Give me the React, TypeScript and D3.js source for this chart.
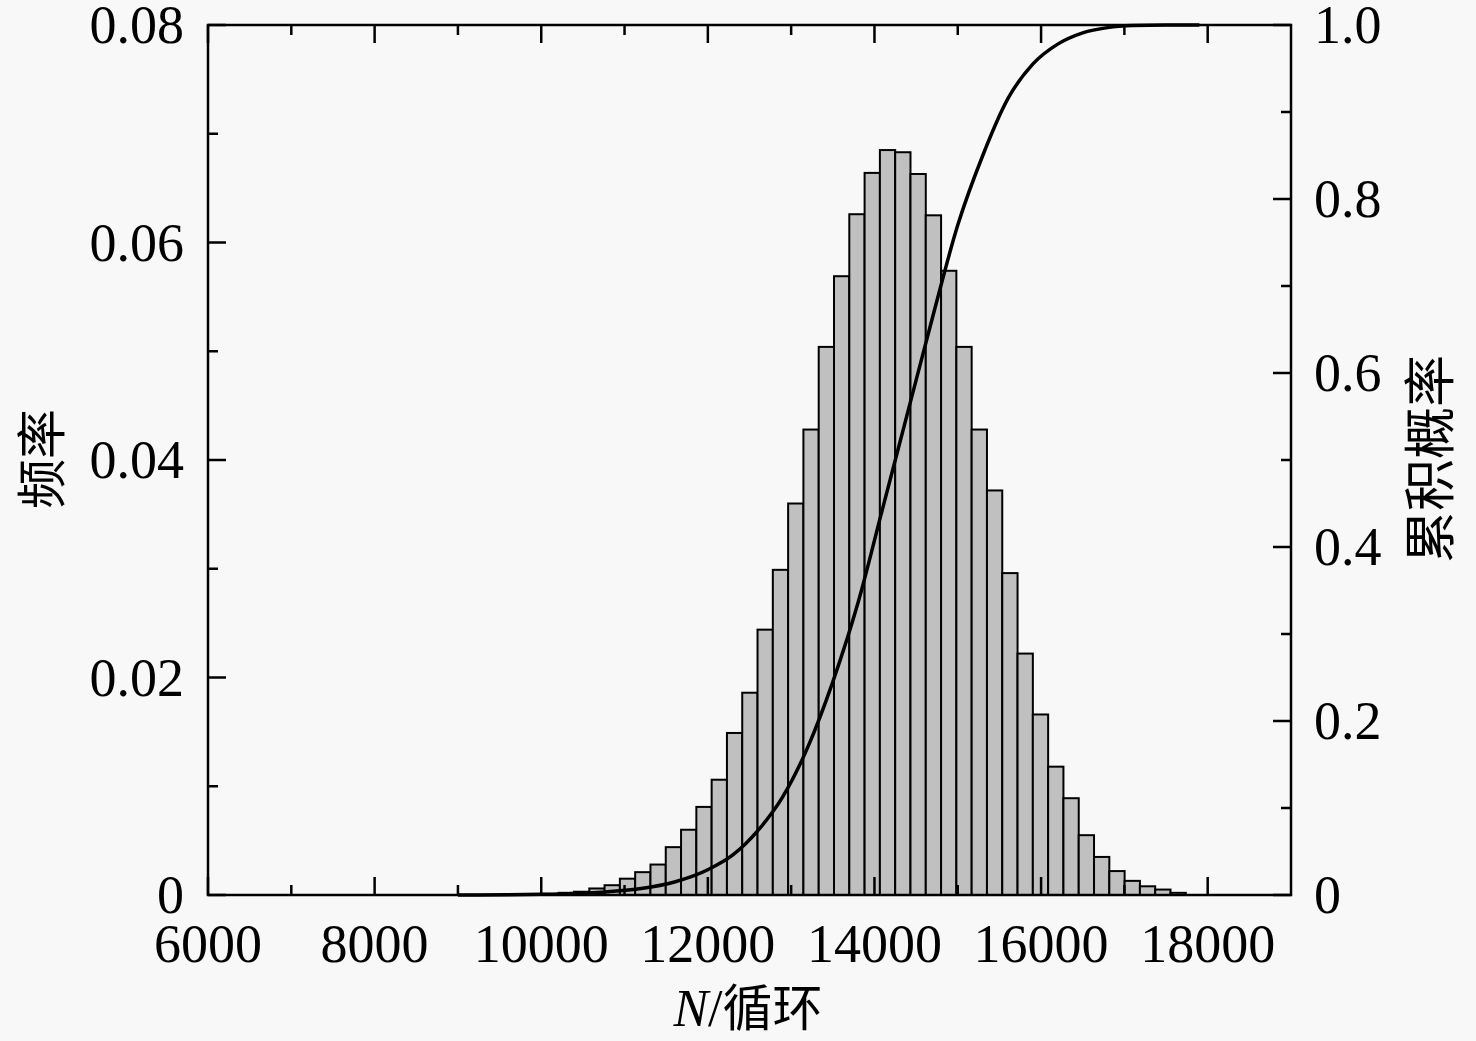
import React from "react";
import * as d3 from "d3";

// Histogram: bins of equal width starting at binStart
const binStart = 10026;
const binWidth = 183.6;
const freq = [
  0.0001, 0.0002, 0.0003, 0.0006, 0.0009, 0.0015, 0.0021, 0.0028, 0.0044, 0.006,
  0.0081, 0.0106, 0.0149, 0.0186, 0.0244, 0.0299, 0.036, 0.0428, 0.0504, 0.0569,
  0.0626, 0.0664, 0.0685, 0.0683, 0.0663, 0.0625, 0.0574, 0.0504, 0.0428, 0.0372,
  0.0296, 0.0222, 0.0166, 0.0118, 0.0089, 0.0055, 0.0035, 0.0022, 0.0013, 0.0008,
  0.0005, 0.0002,
];

// Cumulative probability curve
const cdfN = [
  9000, 9600, 10000, 10400, 10800, 11200, 11600, 12000, 12300, 12600, 12900, 13200,
  13500, 13800, 14100, 14400, 14700, 15000, 15300, 15600, 15900, 16200, 16500, 16800,
  17100, 17500, 17900,
];
const cdfP = [
  0, 0.0003, 0.0008, 0.0018, 0.0038, 0.0075, 0.015, 0.029, 0.046, 0.074, 0.113, 0.17,
  0.245, 0.335, 0.445, 0.555, 0.665, 0.77, 0.85, 0.915, 0.955, 0.978, 0.991, 0.997,
  0.9993, 1.0, 1.0,
];

const xMajor = [6000, 8000, 10000, 12000, 14000, 16000, 18000];
const xMinor = [7000, 9000, 11000, 13000, 15000, 17000];
const yLeftMajor = [0, 0.02, 0.04, 0.06, 0.08];
const yLeftMinor = [0.01, 0.03, 0.05, 0.07];
const yRightMajor = [0, 0.2, 0.4, 0.6, 0.8, 1.0];
const yRightMinor = [0.1, 0.3, 0.5, 0.7, 0.9];

const W = 1476;
const H = 1041;
const L = 208, R = 1291, T = 25, B = 895;

export default function App() {
  const x = d3.scaleLinear().domain([6000, 19000]).range([L, R]);
  const yL = d3.scaleLinear().domain([0, 0.08]).range([B, T]);
  const yR = d3.scaleLinear().domain([0, 1]).range([B, T]);

  const line = d3
    .line<number>()
    .x((_, i) => x(cdfN[i]))
    .y((d) => yR(d))
    .curve(d3.curveMonotoneX);

  const serif = "'Liberation Serif', 'Times New Roman', serif";
  const cjk = "'Noto Sans CJK SC', sans-serif";
  const major = 18;
  const minor = 10;

  const fmtL = (v: number) => (v === 0 ? "0" : v.toFixed(2));
  const fmtR = (v: number) => (v === 0 ? "0" : v.toFixed(1));

  return (
    <svg
      width={W}
      height={H}
      style={{ position: "absolute", left: 0, top: 0, background: "#f8f8f8" }}
    >
      {/* bars */}
      <g>
        {freq.map((f, i) => {
          const x0 = x(binStart + i * binWidth);
          const x1 = x(binStart + (i + 1) * binWidth);
          return (
            <rect
              key={i}
              x={x0}
              y={yL(f)}
              width={x1 - x0}
              height={B - yL(f)}
              fill="#c0c0c0"
              stroke="#000"
              strokeWidth={2}
            />
          );
        })}
      </g>
      {/* cdf */}
      <path d={line(cdfP) || ""} fill="none" stroke="#000" strokeWidth={3.5} />

      {/* frame */}
      <rect x={L} y={T} width={R - L} height={B - T} fill="none" stroke="#000" strokeWidth={2.5} />

      {/* x ticks bottom & top */}
      {xMajor.map((v) => (
        <g key={"xM" + v}>
          <line x1={x(v)} x2={x(v)} y1={B} y2={B - major} stroke="#000" strokeWidth={2.5} />
          <line x1={x(v)} x2={x(v)} y1={T} y2={T + major} stroke="#000" strokeWidth={2.5} />
          <text
            x={x(v)}
            y={962}
            textAnchor="middle"
            fontFamily={serif}
            fontSize={54}
            fill="#000"
          >
            {v}
          </text>
        </g>
      ))}
      {xMinor.map((v) => (
        <g key={"xm" + v}>
          <line x1={x(v)} x2={x(v)} y1={B} y2={B - minor} stroke="#000" strokeWidth={2.5} />
          <line x1={x(v)} x2={x(v)} y1={T} y2={T + minor} stroke="#000" strokeWidth={2.5} />
        </g>
      ))}

      {/* left y */}
      {yLeftMajor.map((v) => (
        <g key={"yl" + v}>
          <line x1={L} x2={L + major} y1={yL(v)} y2={yL(v)} stroke="#000" strokeWidth={2.5} />
          <text
            x={184}
            y={yL(v) + 18}
            textAnchor="end"
            fontFamily={serif}
            fontSize={54}
            fill="#000"
          >
            {fmtL(v)}
          </text>
        </g>
      ))}
      {yLeftMinor.map((v) => (
        <line key={"ylm" + v} x1={L} x2={L + minor} y1={yL(v)} y2={yL(v)} stroke="#000" strokeWidth={2.5} />
      ))}

      {/* right y */}
      {yRightMajor.map((v) => (
        <g key={"yr" + v}>
          <line x1={R} x2={R - major} y1={yR(v)} y2={yR(v)} stroke="#000" strokeWidth={2.5} />
          <text
            x={1314}
            y={yR(v) + 18}
            textAnchor="start"
            fontFamily={serif}
            fontSize={54}
            fill="#000"
          >
            {fmtR(v)}
          </text>
        </g>
      ))}
      {yRightMinor.map((v) => (
        <line key={"yrm" + v} x1={R} x2={R - minor} y1={yR(v)} y2={yR(v)} stroke="#000" strokeWidth={2.5} />
      ))}

      {/* axis titles */}
      <text
        transform={`translate(60, 459) rotate(-90)`}
        textAnchor="middle"
        fontFamily={cjk}
        fontSize={50}
        fill="#000"
      >
        频率
      </text>
      <text
        transform={`translate(1449, 459) rotate(-90)`}
        textAnchor="middle"
        fontFamily={cjk}
        fontSize={52}
        fill="#000"
      >
        累积概率
      </text>
      <text x={748} y={1026} textAnchor="middle" fontSize={52} fill="#000">
        <tspan fontFamily={serif} fontStyle="italic">N</tspan>
        <tspan fontFamily={serif}>/</tspan>
        <tspan fontFamily={cjk} fontSize={50}>循环</tspan>
      </text>
    </svg>
  );
}
